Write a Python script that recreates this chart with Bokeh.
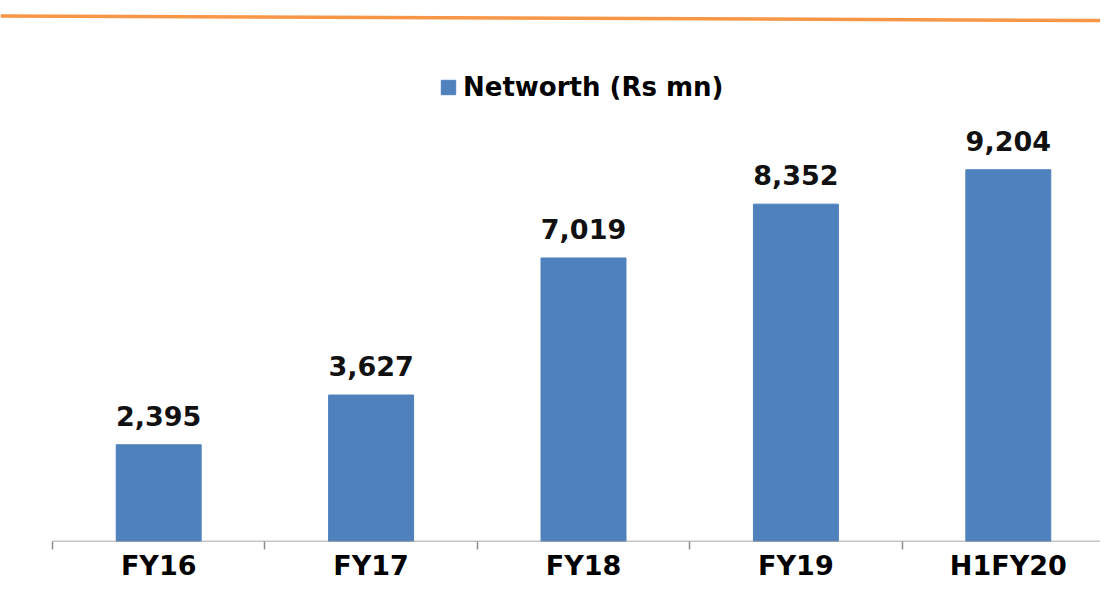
from bokeh.plotting import figure
from bokeh.models import (ColumnDataSource, Range1d, FixedTicker, LabelSet,
                          Legend, LegendItem)
from bokeh.core.properties import value
from bokeh.embed import file_html
from bokeh.resources import INLINE

categories = ["FY16", "FY17", "FY18", "FY19", "H1FY20"]
networth = [2395, 3627, 7019, 8352, 9204]
series_name = "Networth (Rs mn)"

BAR_COLOR = "#4F81BD"
ORANGE = "#F79646"
AXIS_GRAY = "#8C8C8C"
FONT = "DejaVu Sans"

W, H = 1100, 583
n = len(categories)
cat_px = 212.4            # pixel width of one category slot
x_start = -0.5 - 52 / cat_px
x_end = x_start + W / cat_px

idx = list(range(n))
src = ColumnDataSource(dict(
    x=idx,
    v=networth,
    lab=[f"{v:,}" for v in networth],
))

p = figure(width=W, height=H, output_backend="svg", toolbar_location=None,
           x_range=Range1d(x_start, x_end),
           y_range=Range1d(0, 13394),
           min_border_left=0, min_border_right=0, min_border_top=0,
           min_border_bottom=38)
p.yaxis.visible = False
p.grid.visible = False
p.outline_line_color = None

# pixel-space range for the decorative orange rule at the top
p.extra_x_ranges = {"px": Range1d(0, W)}
p.extra_y_ranges = {"px": Range1d(541, 0)}
p.segment(x0=[0], y0=[15.5], x1=[W], y1=[20.0], line_color=ORANGE, line_width=3.5,
          x_range_name="px", y_range_name="px")

r = p.vbar(x="x", top="v", width=0.4, bottom=0, source=src,
           fill_color=BAR_COLOR, line_color=BAR_COLOR)

# baseline spanning the categories only
p.segment(x0=[-0.5], y0=[0], x1=[n - 0.5], y1=[0], line_color=AXIS_GRAY, line_width=1.5)

ax = p.xaxis[0]
ax.ticker = FixedTicker(ticks=idx, minor_ticks=[i - 0.5 for i in range(n + 1)])
ax.major_label_overrides = {i: c for i, c in enumerate(categories)}
ax.axis_line_color = None
ax.major_tick_line_color = None
ax.major_tick_in = 0
ax.major_tick_out = 0
ax.minor_tick_in = 0
ax.minor_tick_out = 8
ax.minor_tick_line_color = AXIS_GRAY
ax.minor_tick_line_width = 1.5
ax.major_label_text_font = FONT
ax.major_label_text_font_style = "bold"
ax.major_label_text_font_size = "27px"
ax.major_label_text_color = "#000000"
ax.major_label_standoff = 0

labels = LabelSet(x="x", y="v", text="lab", source=src, y_offset=19,
                  text_align="center", text_baseline="alphabetic",
                  text_font=value(FONT), text_font_style="bold",
                  text_font_size="27px", text_color="#111111")
p.add_layout(labels)

legend = Legend(items=[LegendItem(label=series_name, renderers=[r])],
                location=(439, 439), orientation="horizontal",
                glyph_width=18, glyph_height=18, label_standoff=6,
                padding=0, margin=0, border_line_color=None,
                background_fill_alpha=0,
                label_text_font=FONT, label_text_font_style="bold",
                label_text_font_size="26px", label_text_color="#000000")
p.add_layout(legend)

open("out.html", "w").write(file_html(p, INLINE))
